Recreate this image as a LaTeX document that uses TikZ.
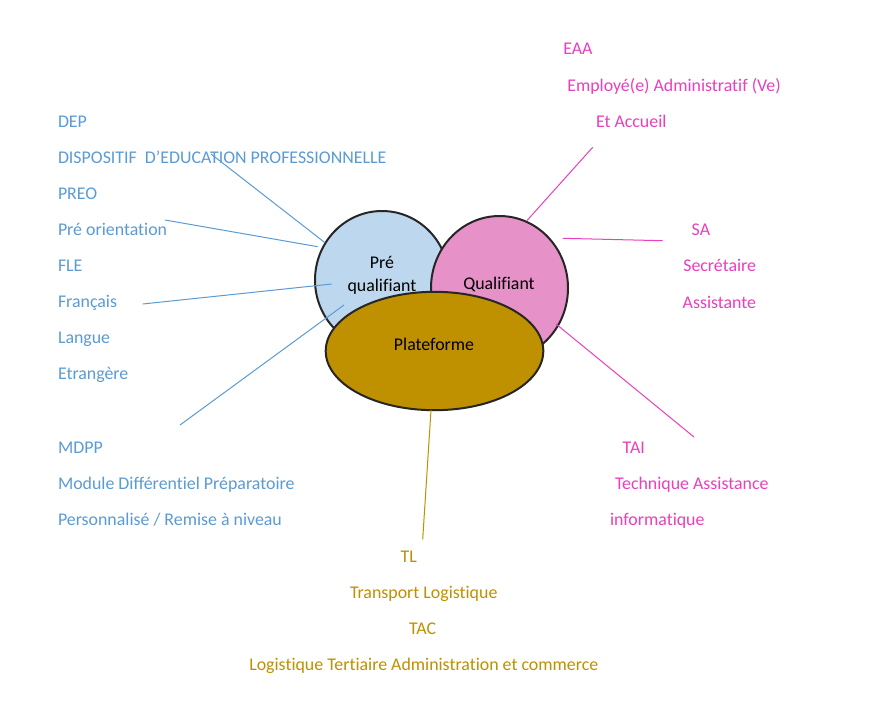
\documentclass[tikz,border=0pt]{standalone}
\usepackage{fontspec}
\setmainfont{Carlito}[Ligatures={NoCommon}]
\usetikzlibrary{shapes.geometric}
\definecolor{bltxt}{HTML}{5B9BD5}
\definecolor{pktxt}{HTML}{EA3FBE}
\definecolor{gdtxt}{HTML}{BF9000}
\definecolor{prefill}{HTML}{BDD7EE}
\definecolor{qualfill}{HTML}{E691C8}
\definecolor{platfill}{HTML}{BF9000}
\definecolor{outl}{HTML}{262626}
\begin{document}
\begin{tikzpicture}[x=0.75pt,y=-0.75pt,
  txt/.style={anchor=base west,inner sep=0pt,outer sep=0pt,font=\fontsize{13.4}{16}\selectfont},
  btxt/.style={txt,text=bltxt},
  ptxt/.style={txt,text=pktxt},
  gtxt/.style={txt,text=gdtxt},
  lbl/.style={anchor=base,inner sep=0pt,font=\fontsize{13.4}{16}\selectfont,text=black},
  ell/.style={ellipse,draw=outl,line width=1.5pt,inner sep=0pt},
  bline/.style={draw=bltxt,line width=0.75pt},
  pline/.style={draw=pktxt,line width=0.75pt},
  gline/.style={draw=gdtxt,line width=0.75pt}]
\useasboundingbox (0,0) rectangle (877,715);
\fill[white] (0,0) rectangle (877,715);

% ellipses
\node[ell,fill=prefill,minimum width=100.5pt,minimum height=103.5pt] (pre) at (382,280) {};
\node[ell,fill=qualfill,minimum width=102.75pt,minimum height=108pt] (qual) at (499.5,288) {};
\node[ell,fill=platfill,minimum width=163.2pt,minimum height=88.8pt] (plat) at (434.5,351) {};

\node[lbl] (preA) at (382,268.3) {Pré};
\node[lbl] (preB) at (382,291.7) {qualifiant};
\node[lbl] (qualT) at (499,289.3) {Qualifiant};
\node[lbl] (platT) at (434,350) {Plateforme};

% blue texts
\node[btxt] (dep) at (58,127) {DEP};
\node[btxt] (depl) at (58,163.1) {DISPOSITIF\ \ D’EDUCATION PROFESSIONNELLE};
\node[btxt] (preo) at (58,199.2) {PREO};
\node[btxt] (preol) at (58,235.3) {Pré orientation};
\node[btxt] (fle) at (58,271.4) {FLE};
\node[btxt] (flea) at (58,307.5) {Français};
\node[btxt] (fleb) at (58,343.6) {Langue};
\node[btxt] (flec) at (58,379.7) {Etrangère};
\node[btxt] (mdpp) at (58,453.3) {MDPP};
\node[btxt] (mdppa) at (58,489.3) {Module Différentiel Préparatoire};
\node[btxt] (mdppb) at (58,525) {Personnalisé / Remise à niveau};

% pink texts
\node[ptxt] (eaa) at (563.3,54) {EAA};
\node[ptxt] (eaaa) at (567.3,91.3) {Employé(e) Administratif (Ve)};
\node[ptxt] (eaab) at (596,127.3) {Et Accueil};
\node[ptxt] (sa) at (691.7,235) {SA};
\node[ptxt] (saa) at (683.3,271.7) {Secrétaire};
\node[ptxt] (sab) at (682.7,308.3) {Assistante};
\node[ptxt] (tai) at (622.7,453.3) {TAI};
\node[ptxt] (taia) at (615,489.3) {Technique Assistance};
\node[ptxt] (taib) at (610,525) {informatique};

% gold texts
\node[gtxt] (tl) at (400.7,562.3) {TL};
\node[gtxt] (tla) at (350,598.3) {Transport Logistique};
\node[gtxt] (tac) at (409,634) {TAC};
\node[gtxt] (taca) at (249.3,670) {Logistique Tertiaire Administration et commerce};

% connector end points
\coordinate (b1s) at (211,154);   \coordinate (b1e) at (325,242.7);
\coordinate (b2s) at (165,220);   \coordinate (b2e) at (317.7,246.7);
\coordinate (b3s) at (142.7,304); \coordinate (b3e) at (331.7,284);
\coordinate (b4s) at (180,425);   \coordinate (b4e) at (344,305);
\coordinate (p1s) at (592.7,147.3); \coordinate (p1e) at (527,220.5);
\coordinate (p2s) at (662.7,240.7); \coordinate (p2e) at (563,238.3);
\coordinate (p3s) at (694,437);   \coordinate (p3e) at (556,324);
\coordinate (g1s) at (422.7,539.3); \coordinate (g1e) at (431,410);

\draw[bline] (b1s) -- (b1e);
\draw[bline] (b2s) -- (b2e);
\draw[bline] (b3s) -- (b3e);
\draw[bline] (b4s) -- (b4e);
\draw[pline] (p1s) -- (p1e);
\draw[pline] (p2s) -- (p2e);
\draw[pline] (p3s) -- (p3e);
\draw[gline] (g1s) -- (g1e);
\end{tikzpicture}
\end{document}
